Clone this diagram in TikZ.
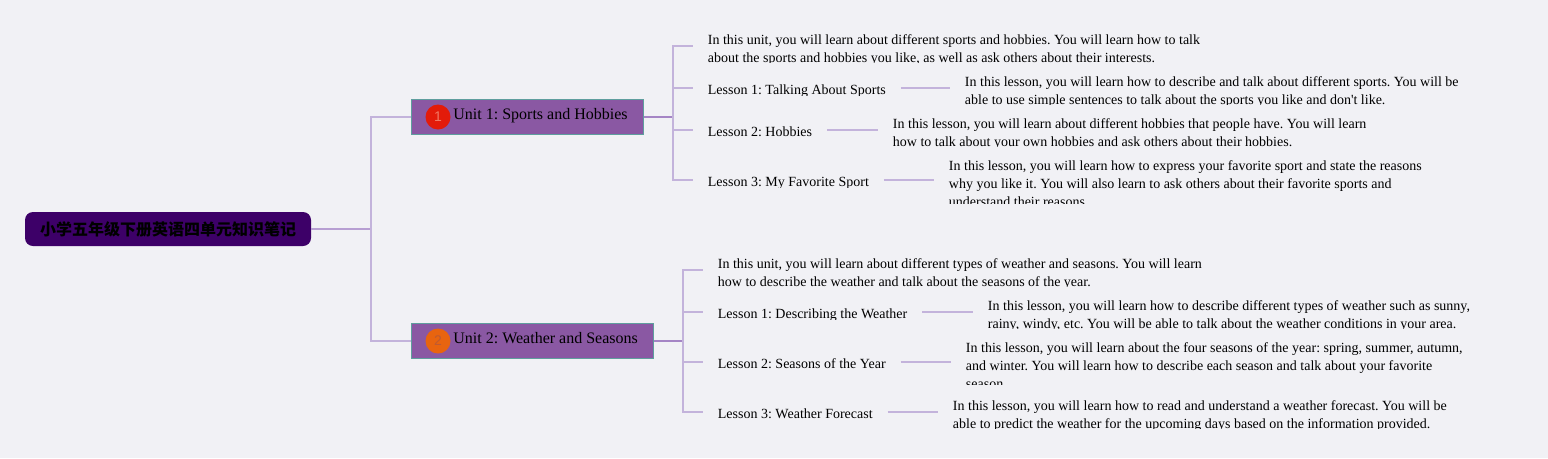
\documentclass[tikz,border=0pt]{standalone}
\usepackage{fontspec}
\setmainfont{Liberation Serif}
\setsansfont{Liberation Sans}
\newfontfamily\cjk{Noto Sans CJK SC}
\usepackage{xcolor}
\definecolor{pagebg}{HTML}{F1F1F5}
\definecolor{rootfill}{HTML}{3D0068}
\definecolor{unitfill}{HTML}{8A58A3}
\definecolor{unitedge}{HTML}{5F9E9E}
\definecolor{mainline}{HTML}{B79FD2}
\definecolor{unitline}{HTML}{A585C5}
\definecolor{subline}{HTML}{C3B3DB}
\frenchspacing
\begin{document}
\begin{tikzpicture}[x=0.75pt, y=-0.75pt]
        % 定义样式
        \tikzstyle{rootnode}=[fill=rootfill, rounded corners=6pt, minimum width=214.5pt, minimum height=25.5pt, inner sep=0pt, font=\cjk\bfseries\fontsize{12}{14}\selectfont]
        \tikzstyle{unitnode}=[anchor=west, fill=unitfill, draw=unitedge, line width=0.6pt, minimum height=26.4pt, inner xsep=12pt, inner ysep=0pt, text height=7pt, text depth=3pt, font=\fontsize{12}{14}\selectfont]
        \tikzstyle{badge}=[circle, minimum size=18.75pt, inner sep=0pt, font=\sffamily\fontsize{10.5}{12}\selectfont]
        \tikzstyle{lessonnode}=[anchor=west, inner xsep=11pt, inner ysep=0pt, text height=10.5pt, text depth=1pt, font=\fontsize{10.5}{13.5}\selectfont]
        \tikzstyle{textnode}=[anchor=west, align=left, inner xsep=11pt, inner ysep=0pt, font=\fontsize{10.5}{13.5}\selectfont]
        \tikzstyle{mainedge}=[mainline, line width=1.1pt]
        \tikzstyle{unitedgeline}=[unitline, line width=1.1pt]
        \tikzstyle{subedge}=[subline, line width=1.1pt]

        % 背景
        \fill[pagebg] (0,0) rectangle (1548,458);
        \useasboundingbox (0,0) rectangle (1548,458);

        % 根节点和单元
        \node[rootnode] (root) at (168,229) {小学五年级下册英语四单元知识笔记};
        \node[unitnode] (u1) at (411,117) {\hspace*{19.5pt}Unit 1: Sports and Hobbies};
        \node[unitnode] (u2) at (411,341) {\hspace*{19.5pt}Unit 2: Weather and Seasons};
        \node[badge, fill={rgb,255:red,227;green,27;blue,10}, text={rgb,255:red,240;green,120;blue,100}] (b1) at (438,117) {1};
        \node[badge, fill={rgb,255:red,232;green,100;blue,15}, text={rgb,255:red,190;green,90;blue,50}] (b2) at (438,341) {2};

        % 第一单元
        \node[textnode] (t1) at (693,50.5) {In this unit, you will learn about different sports and hobbies. You will learn how to talk\\about the sports and hobbies you like, as well as ask others about their interests.};
        \node[lessonnode] (l11) at (693,88) {Lesson 1: Talking About Sports};
        \node[lessonnode] (l12) at (693,130) {Lesson 2: Hobbies};
        \node[lessonnode] (l13) at (693,180) {Lesson 3: My Favorite Sport};
        \node[textnode] (d11) at (950,92.5) {In this lesson, you will learn how to describe and talk about different sports. You will be\\able to use simple sentences to talk about the sports you like and don\textquotesingle t like.};
        \node[textnode] (d12) at (878,134.5) {In this lesson, you will learn about different hobbies that people have. You will learn\\how to talk about your own hobbies and ask others about their hobbies.};
        \node[textnode] (d13) at (934,183.5) {In this lesson, you will learn how to express your favorite sport and state the reasons\\why you like it. You will also learn to ask others about their favorite sports and\\understand their reasons.};

        % 第二单元
        \node[textnode] (t2) at (703,274.5) {In this unit, you will learn about different types of weather and seasons. You will learn\\how to describe the weather and talk about the seasons of the year.};
        \node[lessonnode] (l21) at (703,312) {Lesson 1: Describing the Weather};
        \node[lessonnode] (l22) at (703,362) {Lesson 2: Seasons of the Year};
        \node[lessonnode] (l23) at (703,412) {Lesson 3: Weather Forecast};
        \node[textnode] (d21) at (973,316.5) {In this lesson, you will learn how to describe different types of weather such as sunny,\\rainy, windy, etc. You will be able to talk about the weather conditions in your area.};
        \node[textnode] (d22) at (951,365.5) {In this lesson, you will learn about the four seasons of the year: spring, summer, autumn,\\and winter. You will learn how to describe each season and talk about your favorite\\season.};
        \node[textnode] (d23) at (938,416.5) {In this lesson, you will learn how to read and understand a weather forecast. You will be\\able to predict the weather for the upcoming days based on the information provided.};

        % 文字底部被裁切
        \foreach \n/\y/\z in {t1/63/67,l11/96/99,l13/187.5/191,d11/105/109,d12/147/151,d13/204/209,t2/287/291,l21/319.5/323,d21/329/333,d22/385/390,d23/429/433} {
            \fill[pagebg] (\n.west |- 0,\y) rectangle (\n.east |- 0,\z);
        }

        % 分叉点
        \coordinate (fork0) at (371,229);
        \coordinate (fork1) at (673,117);
        \coordinate (fork2) at (683,341);

        % 连线
        \draw[mainedge] (root.east) -- (fork0);
        \draw[subedge] (fork0) |- (u1.west);
        \draw[subedge] (fork0) |- (u2.west);
        \draw[unitedgeline] (u1.east) -- (fork1);
        \draw[unitedgeline] (u2.east) -- (fork2);
        \draw[subedge] (fork1) |- ([yshift=3.4pt]t1.west);
        \foreach \l in {l11,l12,l13} {
            \draw[subedge] (fork1) |- (\l.west);
        }
        \draw[subedge] (fork2) |- ([yshift=3.4pt]t2.west);
        \foreach \l in {l21,l22,l23} {
            \draw[subedge] (fork2) |- (\l.west);
        }
        \foreach \a/\b in {l11/d11,l12/d12,l13/d13,l21/d21,l22/d22,l23/d23} {
            \draw[subedge] (\a.east) -- (\a.east -| \b.west);
        }
    \end{tikzpicture}
\end{document}
